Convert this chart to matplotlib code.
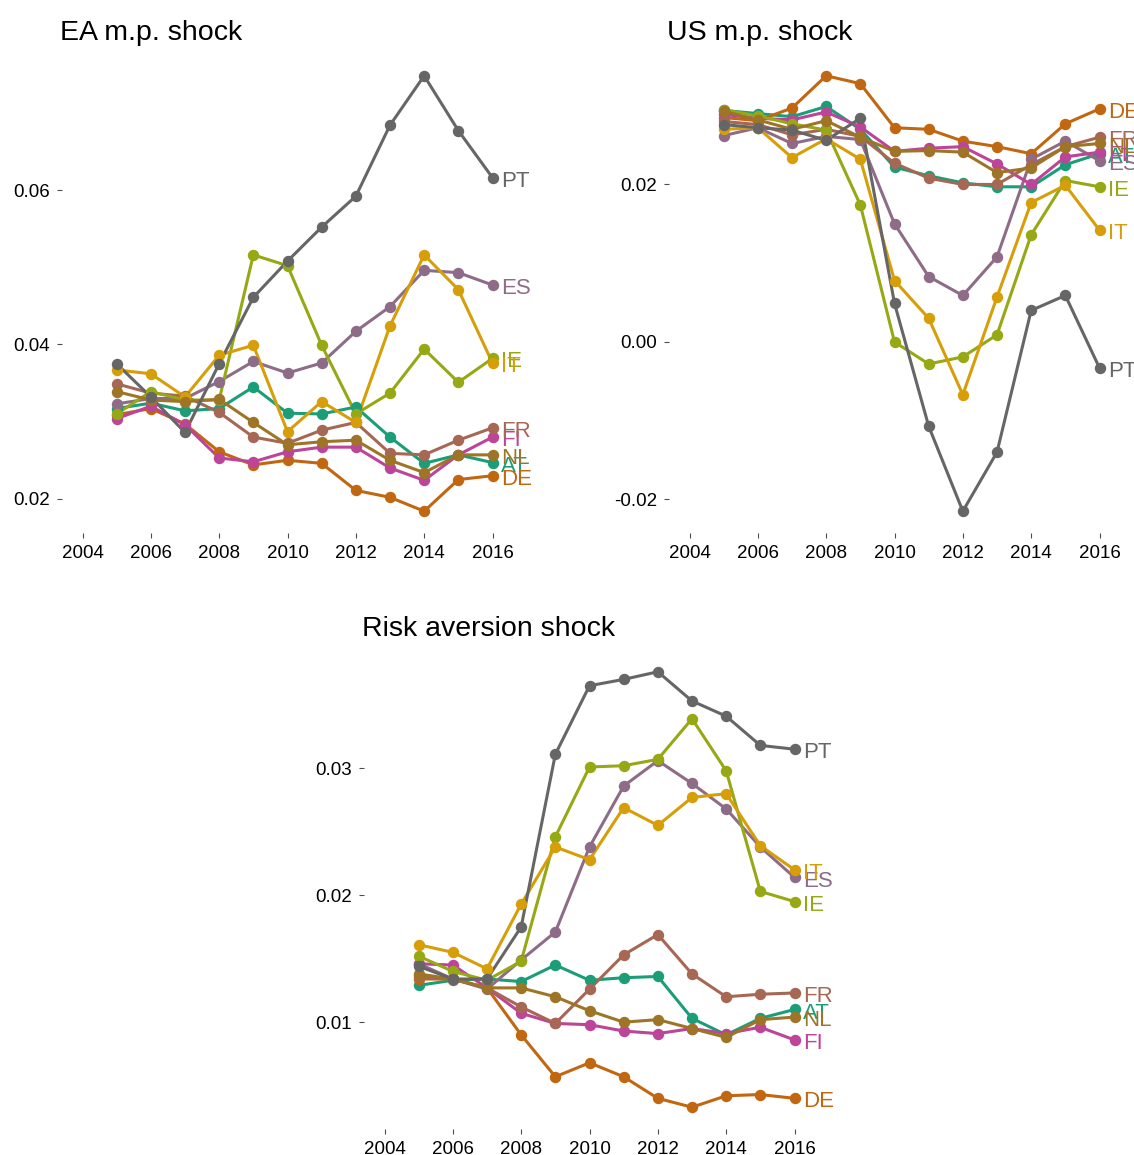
import matplotlib
matplotlib.use("Agg")
import matplotlib.pyplot as plt
from matplotlib.ticker import MultipleLocator, FormatStrFormatter

plt.rcParams['font.family'] = ['Liberation Sans', 'DejaVu Sans']
plt.rcParams['axes.unicode_minus'] = False

years = list(range(2005, 2017))
countries = ["AT", "DE", "ES", "FI", "FR", "IE", "IT", "NL", "PT"]

# Dark2 palette stretched to nine countries
colors = ["#1B9E77", "#C16711", "#8E6C87", "#BC4499", "#A66754",
          "#96A814", "#D69E09", "#9E7426", "#666666"]

ea_mp = {
    "AT": [0.0317, 0.0324, 0.0314, 0.0317, 0.0345, 0.0311, 0.0310, 0.0319, 0.0280, 0.0246, 0.0257, 0.0247],
    "DE": [0.0309, 0.0317, 0.0297, 0.0261, 0.0244, 0.0250, 0.0246, 0.0211, 0.0202, 0.0184, 0.0225, 0.0230],
    "ES": [0.0323, 0.0330, 0.0330, 0.0352, 0.0378, 0.0363, 0.0376, 0.0417, 0.0449, 0.0496, 0.0493, 0.0477],
    "FI": [0.0304, 0.0320, 0.0296, 0.0253, 0.0248, 0.0261, 0.0267, 0.0267, 0.0240, 0.0224, 0.0257, 0.0280],
    "FR": [0.0349, 0.0337, 0.0333, 0.0312, 0.0280, 0.0272, 0.0289, 0.0299, 0.0259, 0.0257, 0.0276, 0.0292],
    "IE": [0.0310, 0.0339, 0.0328, 0.0328, 0.0516, 0.0502, 0.0399, 0.0310, 0.0337, 0.0394, 0.0351, 0.0382],
    "IT": [0.0367, 0.0362, 0.0332, 0.0386, 0.0399, 0.0287, 0.0326, 0.0299, 0.0424, 0.0516, 0.0471, 0.0376],
    "NL": [0.0339, 0.0328, 0.0326, 0.0329, 0.0299, 0.0270, 0.0274, 0.0276, 0.0250, 0.0234, 0.0257, 0.0257],
    "PT": [0.0375, 0.0332, 0.0286, 0.0375, 0.0461, 0.0508, 0.0552, 0.0592, 0.0684, 0.0748, 0.0677, 0.0616],
}

us_mp = {
    "AT": [0.0294, 0.0290, 0.0286, 0.0299, 0.0270, 0.0222, 0.0211, 0.0202, 0.0197, 0.0197, 0.0225, 0.0239],
    "DE": [0.0285, 0.0281, 0.0297, 0.0338, 0.0328, 0.0272, 0.0270, 0.0255, 0.0248, 0.0239, 0.0277, 0.0296],
    "ES": [0.0262, 0.0272, 0.0252, 0.0261, 0.0257, 0.0150, 0.0083, 0.0059, 0.0108, 0.0232, 0.0255, 0.0230],
    "FI": [0.0289, 0.0284, 0.0282, 0.0292, 0.0273, 0.0242, 0.0246, 0.0248, 0.0226, 0.0200, 0.0235, 0.0241],
    "FR": [0.0280, 0.0276, 0.0263, 0.0270, 0.0261, 0.0227, 0.0208, 0.0200, 0.0200, 0.0225, 0.0248, 0.0260],
    "IE": [0.0295, 0.0287, 0.0277, 0.0269, 0.0174, 0.0000, -0.0028, -0.0019, 0.0009, 0.0136, 0.0205, 0.0197],
    "IT": [0.0270, 0.0272, 0.0234, 0.0258, 0.0232, 0.0078, 0.0030, -0.0067, 0.0057, 0.0177, 0.0199, 0.0142],
    "NL": [0.0293, 0.0282, 0.0270, 0.0281, 0.0260, 0.0242, 0.0243, 0.0241, 0.0215, 0.0221, 0.0248, 0.0252],
    "PT": [0.0276, 0.0272, 0.0269, 0.0256, 0.0284, 0.0049, -0.0107, -0.0215, -0.0140, 0.0040, 0.0059, -0.0033],
}

risk_av = {
    "AT": [0.0129, 0.0133, 0.0134, 0.0132, 0.0145, 0.0133, 0.0135, 0.0136, 0.0103, 0.0090, 0.0103, 0.0110],
    "DE": [0.0134, 0.0134, 0.0127, 0.0090, 0.0057, 0.0068, 0.0057, 0.0040, 0.0033, 0.0042, 0.0043, 0.0040],
    "ES": [0.0146, 0.0134, 0.0126, 0.0149, 0.0171, 0.0238, 0.0286, 0.0306, 0.0288, 0.0268, 0.0238, 0.0214],
    "FI": [0.0146, 0.0145, 0.0127, 0.0107, 0.0099, 0.0098, 0.0093, 0.0091, 0.0095, 0.0091, 0.0096, 0.0086],
    "FR": [0.0136, 0.0134, 0.0127, 0.0112, 0.0099, 0.0126, 0.0153, 0.0169, 0.0138, 0.0120, 0.0122, 0.0123],
    "IE": [0.0152, 0.0140, 0.0133, 0.0148, 0.0246, 0.0301, 0.0302, 0.0307, 0.0339, 0.0298, 0.0203, 0.0195],
    "IT": [0.0161, 0.0155, 0.0142, 0.0193, 0.0238, 0.0228, 0.0269, 0.0255, 0.0277, 0.0280, 0.0239, 0.0220],
    "NL": [0.0138, 0.0134, 0.0127, 0.0127, 0.0120, 0.0109, 0.0100, 0.0102, 0.0095, 0.0088, 0.0102, 0.0104],
    "PT": [0.0144, 0.0134, 0.0134, 0.0175, 0.0311, 0.0365, 0.0370, 0.0376, 0.0353, 0.0341, 0.0318, 0.0315],
}

x_ticks = [2004, 2006, 2008, 2010, 2012, 2014, 2016]

W, H = 1134, 1155
fig = plt.figure(figsize=(W / 100, H / 100), dpi=100)
fig.patch.set_facecolor("white")


def add_panel(left, top, width, height):
    return fig.add_axes([left / W, 1 - (top + height) / H, width / W, height / H])


def draw_panel(ax, data, title, ystep):
    # lines first, points on top (as separate layers)
    for c, col in zip(countries, colors):
        ax.plot(years, data[c], color=col, lw=2.2, solid_capstyle="round",
                solid_joinstyle="round", zorder=2)
    for c, col in zip(countries, colors):
        ax.plot(years, data[c], ls="none", marker="o", ms=7.2, color=col,
                mec=col, zorder=3)
    for c, col in zip(countries, colors):
        ax.annotate(c, xy=(years[-1], data[c][-1]), xytext=(6, -0.8),
                    textcoords="offset points", ha="left", va="center_baseline",
                    color=col, fontsize=16, annotation_clip=False)

    span = x_ticks[-1] - x_ticks[0]
    ax.set_xlim(x_ticks[0] - 0.05 * span, x_ticks[-1] + 0.05 * span)
    ax.margins(y=0.05)
    ax.set_xticks(x_ticks)
    ax.yaxis.set_major_locator(MultipleLocator(ystep))
    ax.yaxis.set_major_formatter(FormatStrFormatter("%.2f"))
    for s in ax.spines.values():
        s.set_visible(False)
    ax.set_facecolor("white")
    ax.tick_params(axis="both", length=3.6, width=0.8, color="#4d4d4d",
                   labelsize=13.5, labelcolor="black", pad=4.8)
    ax.annotate(title, xy=(0, 1), xycoords="axes fraction", xytext=(-1.5, 10),
                textcoords="offset points", ha="left", va="baseline",
                fontsize=20.5, color="black")


ax1 = add_panel(62, 54, 451, 479)
ax2 = add_panel(669, 54, 451, 479)
ax3 = add_panel(364, 650, 451, 479)

draw_panel(ax1, ea_mp, "EA m.p. shock", 0.02)
draw_panel(ax2, us_mp, "US m.p. shock", 0.02)
draw_panel(ax3, risk_av, "Risk aversion shock", 0.01)

fig.savefig("out.png", dpi=100, facecolor="white")
